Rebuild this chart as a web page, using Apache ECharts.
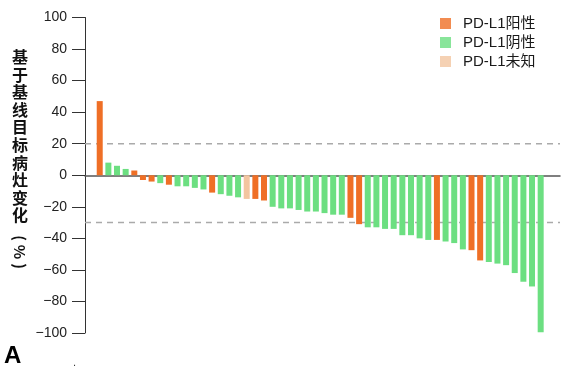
<!DOCTYPE html>
<html>
<head>
<meta charset="utf-8">
<script src="https://cdn.jsdelivr.net/npm/echarts@6/dist/echarts.min.js"></script>
<style>html,body{margin:0;padding:0;background:#fff;}#c{width:573px;height:373px;}</style>
</head>
<body>
<div id="c"></div>
<script>
// Values: change from baseline (%), one per patient, sorted
var values = [47, 8, 6, 4, 3, -3, -4, -5, -6, -7, -7, -8, -9, -11, -12, -13, -14, -15, -15, -16,
  -20, -21, -21, -22, -23, -23, -24, -25, -25, -27, -31, -33, -33, -34, -34, -38, -38, -40, -41, -41,
  -42, -43, -47, -47.5, -54, -55, -56, -57, -62, -67.5, -70.5, -99.5];
// PD-L1 group per bar: 0 = 阳性, 1 = 阴性, 2 = 未知
var groups = [0, 1, 1, 1, 0, 0, 0, 1, 0, 1, 1, 1, 1, 0, 1, 1, 1, 2, 0, 0,
  1, 1, 1, 1, 1, 1, 1, 1, 1, 0, 0, 1, 1, 1, 1, 1, 1, 1, 1, 0,
  1, 1, 1, 0, 0, 1, 1, 1, 1, 1, 1, 1];
var categories = values.map(function (v, i) { return String(i + 1); });
var seriesNames = ["PD-L1阳性", "PD-L1阴性", "PD-L1未知"];
var seriesColors = ["#EF6F26", "#6CDF81", "#F3C5A0"];
var yTicks = [-100, -80, -60, -40, -20, 0, 20, 40, 60, 80, 100];
var refLines = [20, -30];
var yTitle = "基于基线目标病灶变化";
var yTitleUnit = ["(", "%", ")"];

var chart = echarts.init(document.getElementById('c'));

var series = [{
  name: 'bars', type: 'bar', xAxisIndex: 0, yAxisIndex: 0, barWidth: 6, z: 3,
  data: values.map(function (v, i) { return {value: v, itemStyle: {color: seriesColors[groups[i]]}}; })
}];
// legend entries (no marks of their own)
seriesNames.forEach(function (n, si) {
  series.push({name: n, type: 'scatter', xAxisIndex: 1, yAxisIndex: 1, data: [],
    itemStyle: {color: seriesColors[si]}});
});
refLines.forEach(function (v) {
  series.push({
    type: 'line', xAxisIndex: 1, yAxisIndex: 1, data: [[0, v], [1, v]], symbol: 'none',
    silent: true, lineStyle: {color: '#aaaaaa', type: [6, 5], width: 1.5}, z: 1
  });
});

var graphics = yTitle.split('').map(function (ch, i) {
  return {type: 'text', x: 20, y: 57 + i * 17.6,
    style: {text: ch, font: 'bold 16px "Noto Sans CJK SC"', fill: '#111', align: 'center', verticalAlign: 'middle'}};
});
var unitY = [238, 252, 266];
yTitleUnit.forEach(function (ch, i) {
  graphics.push({type: 'text', x: 20, y: unitY[i], rotation: -Math.PI / 2,
    style: {text: ch, font: 'bold 15px "Noto Sans CJK SC"', fill: '#111', align: 'center', verticalAlign: 'middle'}});
});
graphics.push({type: 'text', left: 4, top: 344,
  style: {text: 'A', font: 'bold 24px "Liberation Sans"', fill: '#000'}});
graphics.push({type: 'text', left: 73, top: 357,
  style: {text: '.', font: '11px "Liberation Sans"', fill: '#333'}});

chart.setOption({
  animation: false,
  textStyle: {fontFamily: '"Liberation Sans", Arial, sans-serif'},
  grid: [
    {left: 95.4, width: 449.6, top: 17.5, bottom: 40, containLabel: false},
    {left: 85, right: 13, top: 17.5, bottom: 40, containLabel: false}
  ],
  legend: {
    orient: 'vertical', left: 435, top: 11, itemWidth: 11, itemHeight: 11, itemGap: 4,
    icon: 'rect', data: seriesNames,
    textStyle: {fontSize: 15, color: '#1a1a1a', padding: [0, 0, 0, 7], fontFamily: '"Liberation Sans", "Noto Sans CJK SC", sans-serif'}
  },
  xAxis: [
    {type: 'category', gridIndex: 0, data: categories,
      axisLine: {show: false}, axisTick: {show: false}, axisLabel: {show: false}, splitLine: {show: false}},
    {type: 'value', gridIndex: 1, min: 0, max: 1,
      axisLine: {show: true, onZero: true, lineStyle: {color: '#555', width: 1.5}},
      axisTick: {show: false}, axisLabel: {show: false}, splitLine: {show: false}}
  ],
  yAxis: [
    {type: 'value', gridIndex: 0, min: -100, max: 100, interval: 20,
      axisLine: {show: false}, axisTick: {show: false}, axisLabel: {show: false}, splitLine: {show: false}},
    {type: 'value', gridIndex: 1, min: -100, max: 100, interval: 20,
      axisLine: {show: true, lineStyle: {color: '#333', width: 1}},
      axisTick: {show: true, length: 13, lineStyle: {color: '#333'}},
      axisLabel: {fontSize: 14, color: '#222', margin: 18,
        formatter: function (v) { return yTicks.indexOf(v) >= 0 ? String(v).replace('-', '\u2212') : ''; }},
      splitLine: {show: false}}
  ],
  graphic: graphics,
  series: series
});
</script>
</body>
</html>
